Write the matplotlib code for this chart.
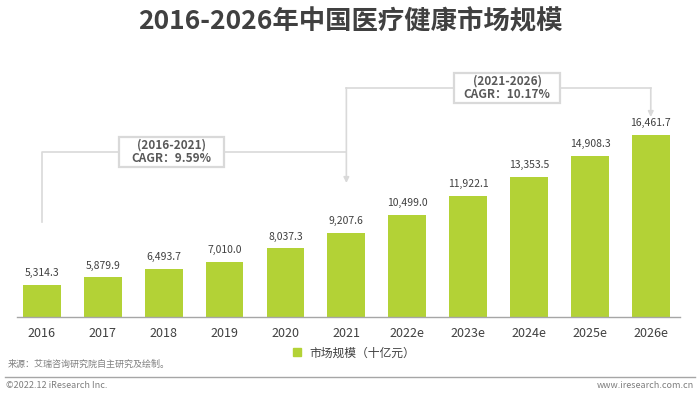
import matplotlib
matplotlib.use("Agg")
import matplotlib.pyplot as plt
from matplotlib.lines import Line2D
from matplotlib.patches import Rectangle

plt.rcParams['font.family'] = ['Noto Sans CJK SC', 'DejaVu Sans']

years = ["2016", "2017", "2018", "2019", "2020", "2021",
         "2022e", "2023e", "2024e", "2025e", "2026e"]
market = [5314.3, 5879.9, 6493.7, 7010.0, 8037.3, 9207.6,
          10499.0, 11922.1, 13353.5, 14908.3, 16461.7]
cagr_labels = ["(2016-2021)\nCAGR：9.59%", "(2021-2026)\nCAGR：10.17%"]

green = "#b3d236"
line_gray = "#d9d9d9"
text_gray = "#404040"

fig = plt.figure(figsize=(7.0, 3.99), dpi=100)
ax = fig.add_axes([17 / 700, 1 - 317 / 399, 663 / 700, 257 / 399])

x = list(range(len(years)))
ax.bar(x, market, width=0.62, color=green, zorder=2)
ax.set_xlim(-0.41, 10.48)
ax.set_ylim(2936, 22030)

for xi, v in zip(x, market):
    ax.text(xi, v + 500, f"{v:,.1f}", ha='center', va='bottom',
            fontsize=7.5, color=text_gray)

ax.set_xticks(x)
ax.set_xticklabels(years, fontsize=9, color=text_gray)
ax.tick_params(axis='x', length=0, pad=7)
ax.set_yticks([])
for s in ["top", "right", "left"]:
    ax.spines[s].set_visible(False)
ax.spines["bottom"].set_color("#a6a6a6")
ax.spines["bottom"].set_linewidth(1.0)

# CAGR brackets
y_low = 15195
y_high = 19949
ax.plot([0, 0, 5], [9994, y_low, y_low], color=line_gray, lw=1.2, zorder=1)
ax.annotate("", xy=(5, 12891), xytext=(5, y_high),
            arrowprops=dict(arrowstyle="-|>", color=line_gray, lw=1.2,
                            mutation_scale=8, shrinkA=0, shrinkB=0))
ax.plot([5, 10], [y_high, y_high], color=line_gray, lw=1.2, zorder=1)
ax.annotate("", xy=(10, 17795), xytext=(10, y_high),
            arrowprops=dict(arrowstyle="-|>", color=line_gray, lw=1.2,
                            mutation_scale=8, shrinkA=0, shrinkB=0))

box_w, box_h = 1.73, 2300
for cx, cy, label in [(2.13, y_low, cagr_labels[0]), (7.64, y_high, cagr_labels[1])]:
    ax.add_patch(Rectangle((cx - box_w / 2, cy - box_h / 2), box_w, box_h,
                           facecolor="white", edgecolor=line_gray, lw=1.6,
                           zorder=3))
    ax.text(cx, cy, label, ha='center', va='center', fontsize=8.5,
            fontweight='bold', color="#595959", linespacing=1.05, zorder=4)

# legend
handle = Line2D([], [], marker='s', linestyle='none', color=green, markersize=5.5)
fig.legend([handle], ["市场规模（十亿元）"], loc='center',
           bbox_to_anchor=(350 / 700, 1 - 353 / 399), frameon=False,
           fontsize=8.5, handletextpad=0.0, labelcolor=text_gray)

fig.text(0.5, 1 - 22 / 399, "2016-2026年中国医疗健康市场规模", ha='center',
         va='center', fontsize=19, fontweight='bold', color="#404040")
fig.text(8 / 700, 1 - 364 / 399, "来源：艾瑞咨询研究院自主研究及绘制。",
         ha='left', va='center', fontsize=6.5, color="#7f7f7f")
fig.add_artist(Line2D([5 / 700, 695 / 700], [1 - 377 / 399, 1 - 377 / 399],
                      color="#a6a6a6", lw=1.0))
fig.text(6 / 700, 1 - 385 / 399, "©2022.12 iResearch Inc.", ha='left',
         va='center', fontsize=6.5, color="#7f7f7f")
fig.text(694 / 700, 1 - 385 / 399, "www.iresearch.com.cn", ha='right',
         va='center', fontsize=6.5, color="#7f7f7f")

fig.savefig("out.png", dpi=100)
